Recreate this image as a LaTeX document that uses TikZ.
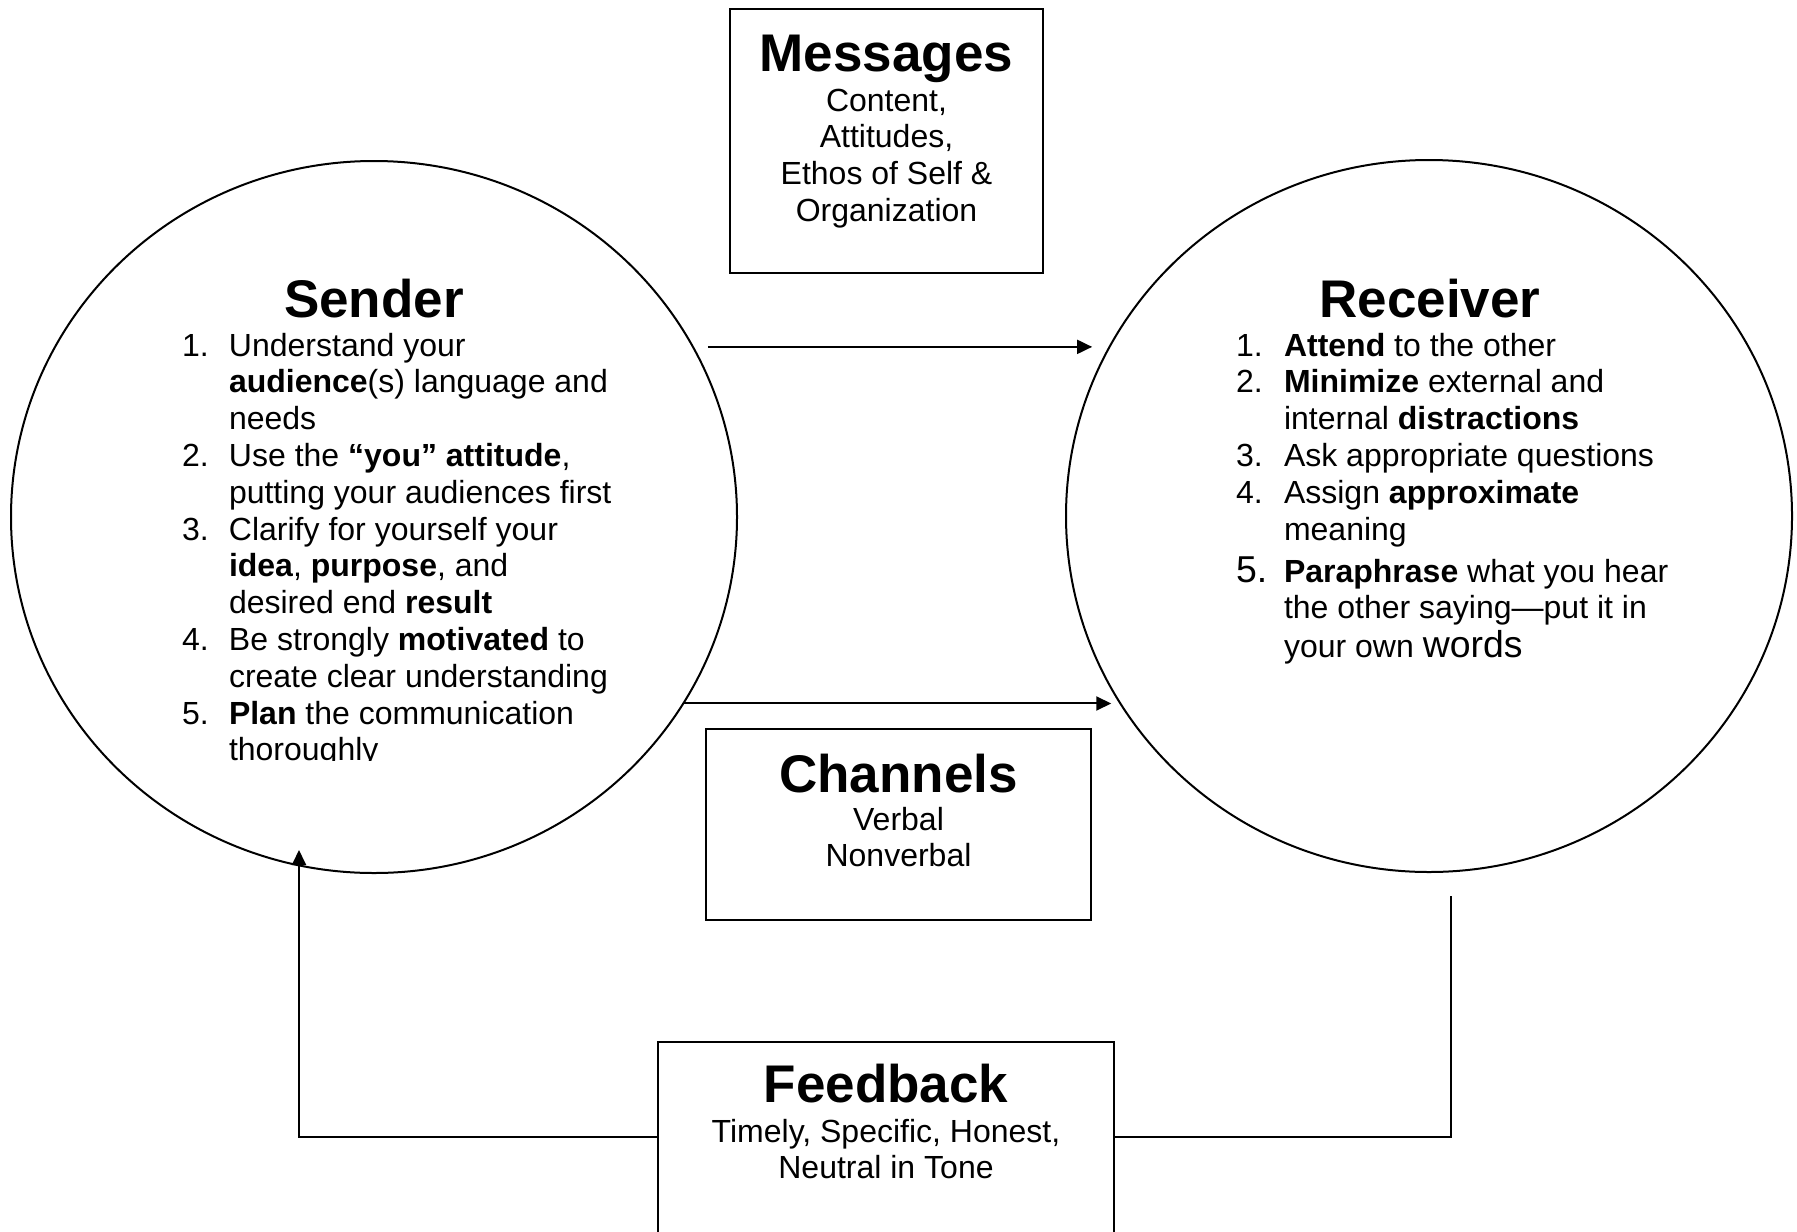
\documentclass[tikz,border=0pt]{standalone}
\usepackage{fontspec}
\setmainfont{Liberation Sans}
\usetikzlibrary{arrows.meta}
\usetikzlibrary{calc}
\usetikzlibrary{shapes.geometric}
\newcommand{\bodysize}{\fontsize{16}{18.4}\selectfont}
\newcommand{\titlesize}{\fontsize{26.5}{30}\selectfont\bfseries}
\newcommand{\bigsize}{\fontsize{18.7}{18.4}\selectfont}
\newcommand{\drawflow}{\draw[-{Triangle[length=7.5pt, width=7pt]}]}

\begin{document}
\begin{tikzpicture}[x=0.5pt, y=-0.5pt, line width=1pt,
        blob/.style={ellipse, draw, inner sep=0pt, minimum width=363pt, minimum height=356pt},
        frame/.style={rectangle, draw, inner sep=0pt},
        title/.style={anchor=base, inner sep=0pt, font=\titlesize},
        body/.style={anchor=base, inner sep=0pt, font=\bodysize}]
        \useasboundingbox (0,0) rectangle (1797,1231);
        \clip (0,0) rectangle (1797,1231);

        % Draw circles and boxes
        \node[blob] (sender) at (374,517) {};
        \node[blob] (receiver) at (1429,516) {};
        \node[frame, minimum width=156.5pt, minimum height=132pt] (msgbox) at (886.5,141) {};
        \node[frame, minimum width=192.5pt, minimum height=95.5pt] (chanbox) at (898.5,824.5) {};
        \node[frame, anchor=north, minimum width=228pt, minimum height=110pt] (fbbox) at (886,1041) {};

        % Draw box texts
        \node[title] (msgtitle) at (886.5,71) {Messages};
        \node[body] (msgtext) at (886.5,111) {\begin{tabular}[t]{@{}c@{}}
            Content,\\ Attitudes,\\ Ethos of Self \&\\ Organization
        \end{tabular}};
        \node[title] (chantitle) at (898.5,792) {Channels};
        \node[body] (chantext) at (898.5,830) {\begin{tabular}[t]{@{}c@{}}
            Verbal\\ Nonverbal
        \end{tabular}};
        \node[title] (fbtitle) at (886,1102) {Feedback};
        \node[body] (fbtext) at (886,1142) {\begin{tabular}[t]{@{}c@{}}
            Timely, Specific, Honest,\\ Neutral in Tone
        \end{tabular}};

        % Draw sender
        \node[title] (sendtitle) at (374,317) {Sender};
        \begin{scope}
            \clip (0,0) rectangle (740,760);
            \node[body, anchor=base west] (sendlist) at (181,356) {\begin{tabular}[t]{@{}p{23.5pt}@{}l@{}}
                1. & Understand your\\
                   & \textbf{audience}(s) language and\\
                   & needs\\
                2. & Use the \textbf{“you” attitude},\\
                   & putting your audiences first\\
                3. & Clarify for yourself your\\
                   & \textbf{idea}, \textbf{purpose}, and\\
                   & desired end \textbf{result}\\
                4. & Be strongly \textbf{motivated} to\\
                   & create clear understanding\\
                5. & \textbf{Plan} the communication\\
                   & thoroughly
            \end{tabular}};
        \end{scope}

        % Draw receiver
        \node[title] (rcvtitle) at (1430,317) {Receiver};
        \node[body, anchor=base west] (rcvlist) at (1235,356) {\begin{tabular}[t]{@{}p{24pt}@{}l@{}}
            1. & \textbf{Attend} to the other\\
            2. & \textbf{Minimize} external and\\
               & internal \textbf{distractions}\\
            3. & Ask appropriate questions\\
            4. & Assign \textbf{approximate}\\
               & meaning\\[2.6pt]
            {\bigsize 5.} & \textbf{Paraphrase} what you hear\\
               & the other saying—put it in\\[0.5pt]
               & your own {\bigsize words}
        \end{tabular}};

        % Draw flows
        \drawflow[shorten <=7pt, shorten >=10pt] (sender.28.2) -- (sender.28.2 -| receiver.151.9);
        \drawflow[shorten >=3.7pt] (sender.-31.4) -- (sender.-31.4 -| receiver.211.6);

        % Draw feedback loop
        \coordinate (fbin) at (1451,896);
        \coordinate (fbout) at (299,850);
        \draw (fbin) |- ($(fbbox.north east)+(0,96)$);
        \drawflow ($(fbbox.north west)+(0,96)$) -| (fbout);
    \end{tikzpicture}
\end{document}
